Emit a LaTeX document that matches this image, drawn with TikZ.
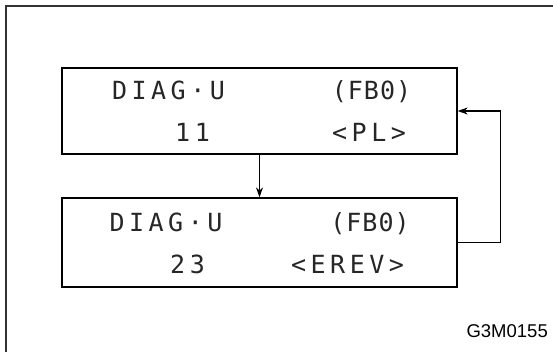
\documentclass[tikz,border=0pt]{standalone}
\usepackage{fontspec}
\usepackage{tikz}
\usetikzlibrary{arrows.meta}
\setmainfont{Liberation Sans}
\newfontfamily\panelfont[LetterSpace=18]{DejaVu Sans Mono}
\tikzstyle{panel}    = [draw, line width=1.3pt, inner sep=0pt, minimum width=395pt]
\tikzstyle{lcd}      = [inner sep=0pt, anchor=base, text=black!85, font=\panelfont\fontsize{25}{30}\selectfont]
\tikzstyle{flowarrow} = [line width=1.1pt,-{Stealth[length=10pt,width=7pt]}]

\begin{document}
\begin{tikzpicture}[x=1pt,y=-1pt]
  \useasboundingbox (0,0) rectangle (553,352);

  % frame
  \draw[line width=2pt, black!80] (553,6.5) -- (6,6.5) -- (6,352);

  % first display
  \node[panel, minimum height=86pt] (panel1) at (259.5,111) {};
  \node[lcd] (mode1) at (168.5,100) {DIAG·U};
  \node[lcd] (code1) at (371.5,100) {\addfontfeature{LetterSpace=4}(FB0)};
  \node[lcd] (num1)  at (192.5,142) {11};
  \node[lcd] (tag1)  at (369,142) {<PL>};

  % second display
  \node[panel, minimum height=89pt] (panel2) at (259.5,242.5) {};
  \node[lcd] (mode2) at (166,232) {DIAG·U};
  \node[lcd] (code2) at (370,232) {\addfontfeature{LetterSpace=4}(FB0)};
  \node[lcd] (num2)  at (187.5,273) {23};
  \node[lcd] (tag2)  at (347.5,273) {<EREV>};

  % loop
  \draw[flowarrow] (panel1) -- (panel2);
  \draw[flowarrow] (panel2.east) -- ++(43,0) |- (panel1.east);

  \node[anchor=base east, inner sep=0pt, font=\fontsize{18.5}{22}\selectfont] (label) at (548,337) {G3M0155};
\end{tikzpicture}
\end{document}
